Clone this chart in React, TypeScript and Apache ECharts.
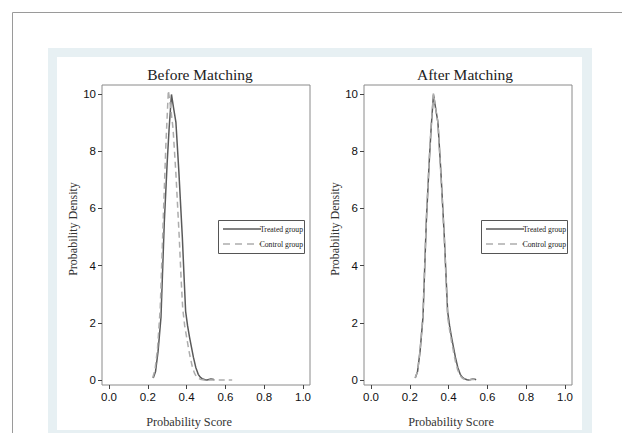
import React, { useEffect, useRef } from "react";
import * as echarts from "echarts";

// Probability score (x) and density (y)
const treatedX = [0.228, 0.24, 0.253, 0.268, 0.285, 0.3, 0.31, 0.322, 0.333, 0.345, 0.36, 0.378, 0.387, 0.395, 0.405, 0.415, 0.425, 0.435, 0.447, 0.46, 0.47, 0.48, 0.495, 0.505, 0.515, 0.525, 0.535, 0.542];
const treatedY = [0.07, 0.3, 1.0, 2.2, 5.5, 7.6, 8.8, 9.98, 9.5, 9.0, 7.3, 5.0, 3.6, 2.4, 1.9, 1.5, 1.15, 0.8, 0.45, 0.2, 0.1, 0.05, 0.01, 0.0, 0.02, 0.04, 0.03, 0.01];

const controlBeforeX = [0.225, 0.237, 0.25, 0.264, 0.28, 0.293, 0.306, 0.318, 0.33, 0.345, 0.362, 0.372, 0.38, 0.39, 0.4, 0.41, 0.42, 0.43, 0.44, 0.45, 0.46, 0.475, 0.49, 0.51, 0.53, 0.56, 0.6, 0.635];
const controlBeforeY = [0.07, 0.35, 1.1, 2.5, 5.7, 8.2, 10.12, 9.5, 8.8, 7.2, 5.0, 3.5, 2.5, 1.9, 1.5, 1.1, 0.75, 0.45, 0.25, 0.12, 0.06, 0.02, 0.0, 0.0, 0.0, 0.0, 0.0, 0.0];

const controlAfterX = [0.228, 0.24, 0.253, 0.268, 0.285, 0.3, 0.31, 0.322, 0.333, 0.345, 0.36, 0.378, 0.387, 0.395, 0.405, 0.415, 0.425, 0.435, 0.447, 0.46, 0.47, 0.48, 0.495, 0.505, 0.515, 0.525, 0.535, 0.542];
const controlAfterY = [0.08, 0.3, 1.05, 2.3, 5.6, 7.7, 8.9, 10.02, 9.5, 9.0, 7.2, 4.9, 3.5, 2.2, 1.75, 1.35, 1.0, 0.65, 0.35, 0.15, 0.07, 0.03, 0.0, 0.0, 0.02, 0.03, 0.02, 0.0];

const xTicks = [0, 0.2, 0.4, 0.6, 0.8, 1.0];
const yTicks = [0, 2, 4, 6, 8, 10];
const panelTitles = ["Before Matching", "After Matching"];
const seriesNames = ["Treated group", "Control group"];
const xTitle = "Probability Score";
const yTitle = "Probability Density";

const pairs = (xs: number[], ys: number[]) => xs.map((x, i) => [x, ys[i]]);

const SERIF = "Liberation Serif";
const SANS = "Liberation Sans";
const TREATED_COLOR = "#5a5a5a";
const CONTROL_COLOR = "#adadad";

export default function App() {
  const ref = useRef<HTMLDivElement>(null);

  useEffect(() => {
    if (!ref.current) return;
    const chart = echarts.init(ref.current, null, { renderer: "svg" });

    const grids = [
      { left: 102, top: 85, width: 208, height: 302 },
      { left: 364, top: 85, width: 208, height: 302 },
    ];

    const xAxes = grids.map((_, i) => ({
      type: "value",
      gridIndex: i,
      position: "bottom",
      min: -0.036,
      max: 1.036,
      axisLine: { show: false, onZero: false },
      splitLine: { show: false },
      axisTick: { show: true, length: 4, customValues: xTicks, lineStyle: { color: "#444" } },
      axisLabel: {
        customValues: xTicks,
        formatter: (v: number) => v.toFixed(1),
        color: "#111",
        fontFamily: SANS,
        fontSize: 11.5,
        margin: 6,
      },
      name: xTitle,
      nameLocation: "middle",
      nameGap: 31,
      nameTextStyle: {
        fontFamily: SERIF,
        fontSize: 12.3,
        color: "#333",
        padding: [0, 34, 0, 0],
      },
    }));

    const yAxes = grids.map((_, i) => ({
      type: "value",
      gridIndex: i,
      position: "left",
      min: -0.174,
      max: 10.31,
      axisLine: { show: false, onZero: false },
      splitLine: { show: false },
      axisTick: { show: true, length: 4, customValues: yTicks, lineStyle: { color: "#444" } },
      axisLabel: {
        customValues: yTicks,
        color: "#111",
        fontFamily: SANS,
        fontSize: 11.5,
        margin: 6,
      },
      name: yTitle,
      nameLocation: "middle",
      nameGap: i === 0 ? 21 : 22,
      nameTextStyle: {
        fontFamily: SERIF,
        fontSize: 12,
        color: "#333",
        padding: [0, 0, 0, 12],
      },
    }));

    const mkLine = (name: string, data: number[][], idx: number, dashed: boolean) => ({
      type: "line",
      name,
      xAxisIndex: idx,
      yAxisIndex: idx,
      data,
      symbol: "none",
      smooth: false,
      lineStyle: {
        color: dashed ? CONTROL_COLOR : TREATED_COLOR,
        width: 1.5,
        type: dashed ? [6, 4] : "solid",
      },
      z: dashed ? 3 : 2,
    });

    const series = [
      mkLine(seriesNames[0], pairs(treatedX, treatedY), 0, false),
      mkLine(seriesNames[1], pairs(controlBeforeX, controlBeforeY), 0, true),
      mkLine(seriesNames[0], pairs(treatedX, treatedY), 1, false),
      mkLine(seriesNames[1], pairs(controlAfterX, controlAfterY), 1, true),
    ];

    const legendBox = (left: number, top: number) => ({
      type: "group",
      left,
      top,
      z: 50,
      children: [
        {
          type: "rect",
          shape: { x: 0.5, y: 0.5, width: 86, height: 33 },
          style: { fill: "#fff", stroke: "#555", lineWidth: 1 },
        },
        {
          type: "line",
          shape: { x1: 5, y1: 9, x2: 43, y2: 9 },
          style: { stroke: TREATED_COLOR, lineWidth: 1.5 },
        },
        {
          type: "text",
          x: 85,
          y: 9,
          style: {
            text: seriesNames[0],
            align: "right",
            verticalAlign: "middle",
            fontFamily: SERIF,
            fontSize: 7.7,
            fill: "#222",
          },
        },
        {
          type: "line",
          shape: { x1: 5, y1: 24, x2: 43, y2: 24 },
          style: { stroke: CONTROL_COLOR, lineWidth: 1.5, lineDash: [7, 5] },
        },
        {
          type: "text",
          x: 85,
          y: 24,
          style: {
            text: seriesNames[1],
            align: "right",
            verticalAlign: "middle",
            fontFamily: SERIF,
            fontSize: 7.7,
            fill: "#222",
          },
        },
      ],
    });

    const titleText = (cx: number, text: string) => ({
      type: "text",
      x: cx,
      y: 74,
      z: 50,
      style: {
        text,
        align: "center",
        verticalAlign: "middle",
        fontFamily: SERIF,
        fontSize: 15.5,
        fill: "#222",
      },
    });

    chart.setOption({
      animation: false,
      backgroundColor: "#ffffff",
      graphic: [
        {
          type: "rect",
          z: -10,
          shape: { x: 12.5, y: 12.5, width: 700, height: 500 },
          style: { fill: "#fff", stroke: "#9a9a9a", lineWidth: 1 },
          silent: true,
        },
        {
          type: "rect",
          z: -9,
          shape: { x: 48, y: 48, width: 544, height: 420 },
          style: { fill: "#e7f0f3" },
          silent: true,
        },
        {
          type: "rect",
          z: -8,
          shape: { x: 57, y: 57, width: 525, height: 373 },
          style: { fill: "#ffffff" },
          silent: true,
        },
        titleText(200, panelTitles[0]),
        titleText(465, panelTitles[1]),
        legendBox(218, 220),
        legendBox(481, 220),
      ],
      grid: grids.map((g) => ({
        ...g,
        show: true,
        borderColor: "#8a8a8a",
        borderWidth: 1,
        backgroundColor: "#fff",
      })),
      xAxis: xAxes,
      yAxis: yAxes,
      series,
    });

    return () => chart.dispose();
  }, []);

  return (
    <div
      ref={ref}
      style={{ position: "absolute", left: 0, top: 0, width: 622, height: 433 }}
    />
  );
}
